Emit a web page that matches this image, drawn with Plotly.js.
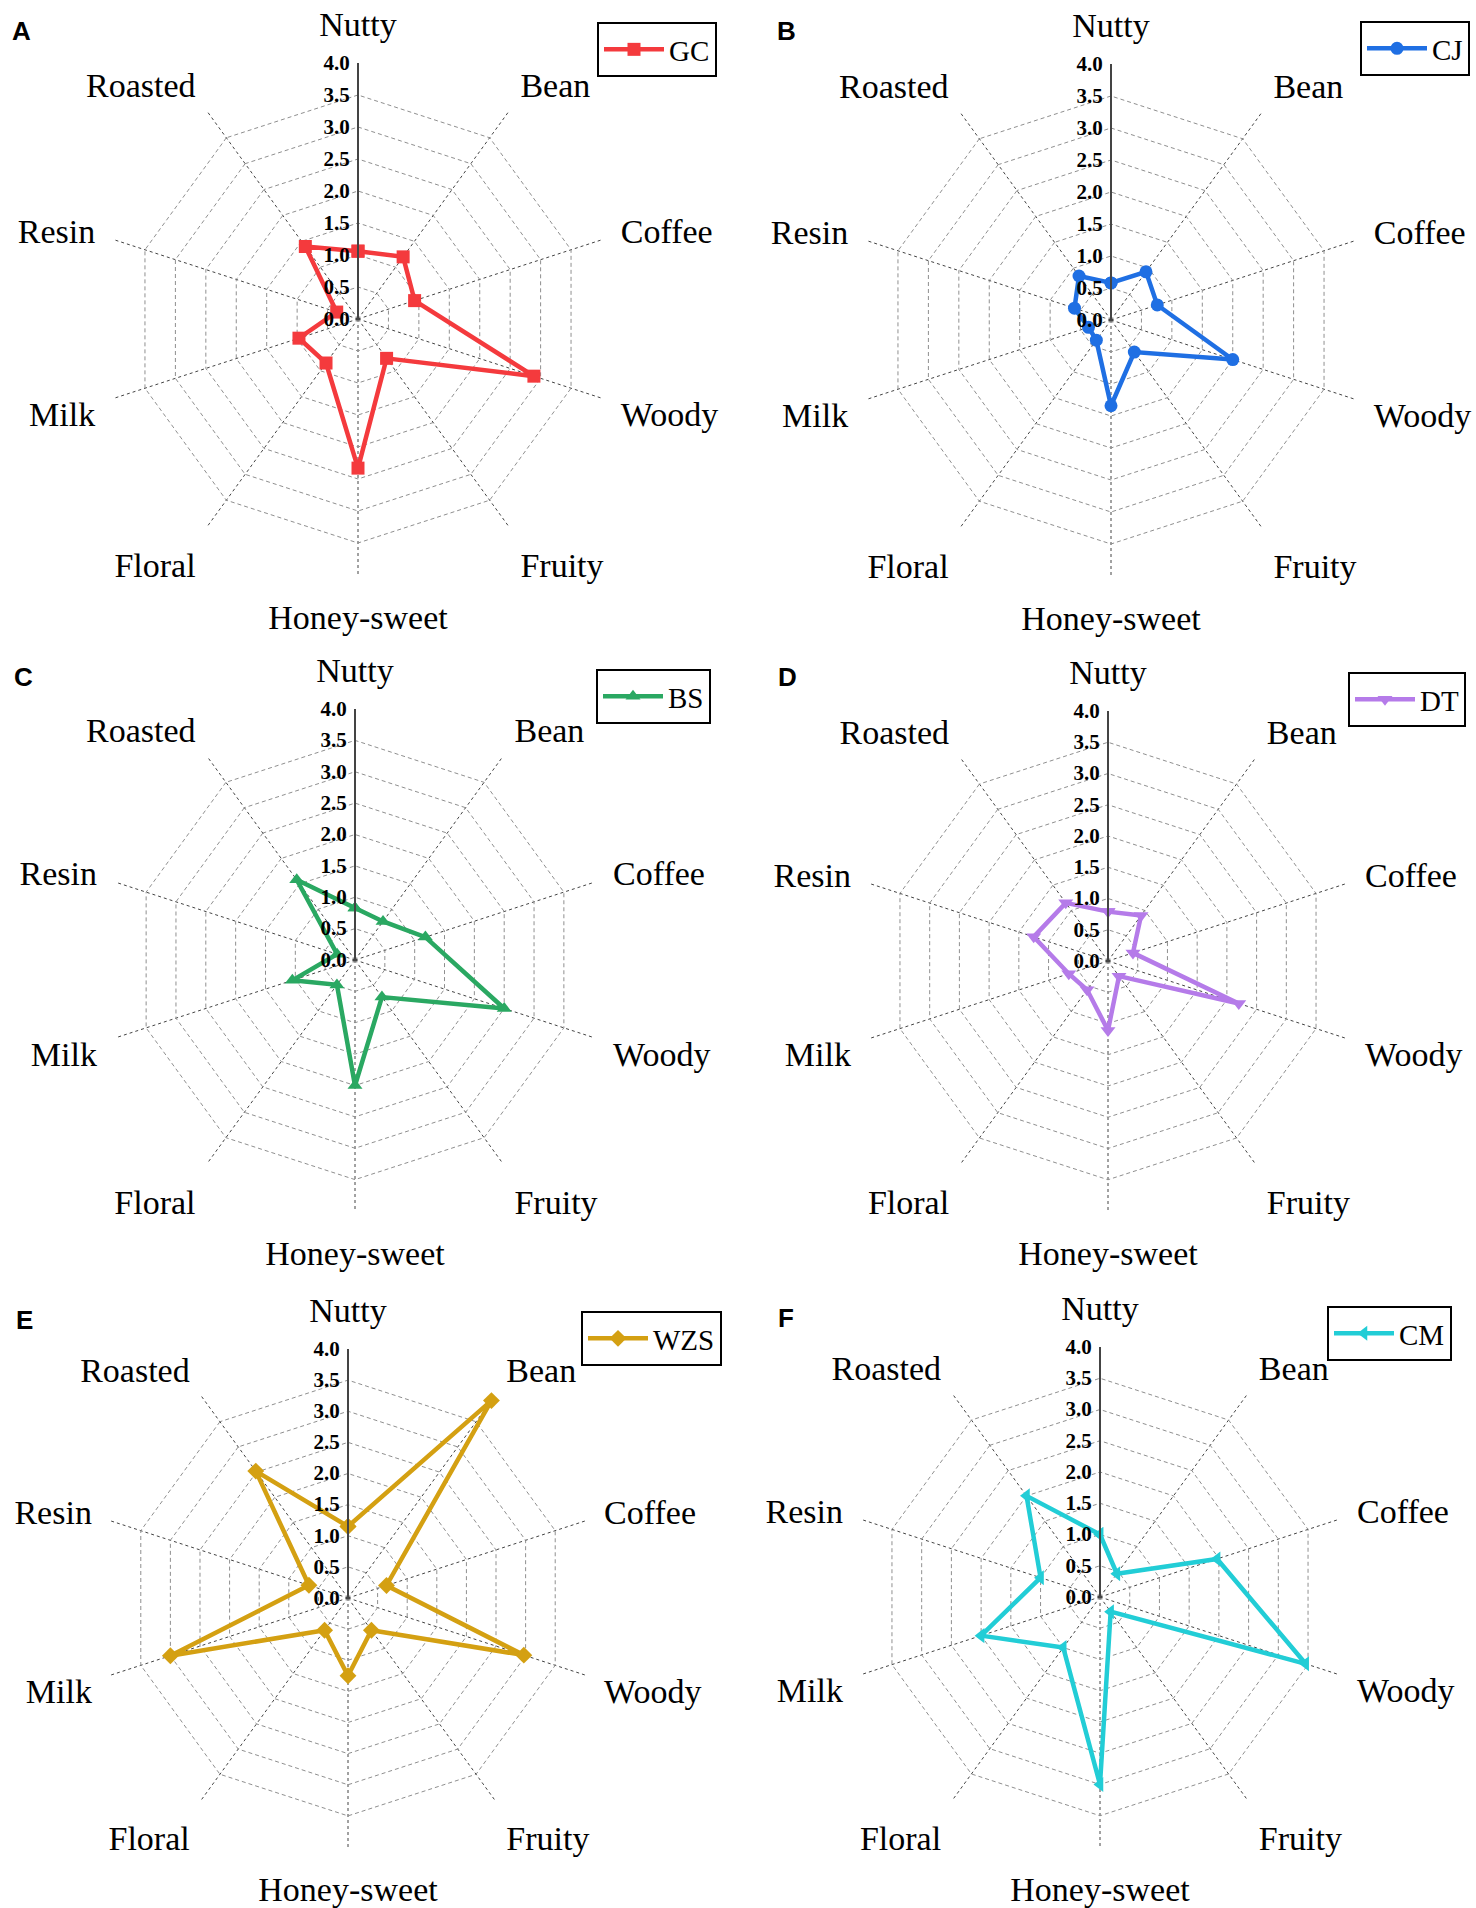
<!DOCTYPE html>
<html>
<head>
<meta charset="utf-8">
<script src="https://cdn.plot.ly/plotly-3.0.1.min.js"></script>
<style>html,body{margin:0;padding:0;background:#fff;}#chart{width:1476px;height:1908px;}</style>
</head>
<body>
<div id="chart"></div>
<script>
// ---- data ----
const categories = ['Nutty','Bean','Coffee','Woody','Fruity','Honey-sweet','Floral','Milk','Resin','Roasted'];
const radialTicks = [0,0.5,1,1.5,2,2.5,3,3.5,4];
const seriesNames = ['GC','CJ','BS','DT','WZS','CM'];
const panelLetters = ['A','B','C','D','E','F'];
const GC  = [1.06, 1.20, 0.93, 2.89, 0.76, 2.33, 0.85, 0.97, 0.35, 1.40];
const CJ  = [0.58, 0.93, 0.76, 2.00, 0.62, 1.34, 0.39, 0.37, 0.60, 0.85];
const BS  = [0.83, 0.76, 1.18, 2.50, 0.73, 2.00, 0.49, 1.05, 0.30, 1.58];
const DT  = [0.79, 0.90, 0.42, 2.20, 0.30, 1.11, 0.57, 0.66, 1.25, 1.15];
const WZS = [1.15, 3.92, 0.65, 2.97, 0.64, 1.25, 0.64, 3.00, 0.66, 2.52];
const CM  = [1.00, 0.46, 1.97, 3.46, 0.29, 3.00, 1.00, 2.00, 1.00, 2.00];
const seriesValues = [GC, CJ, BS, DT, WZS, CM];

// ---- style ----
const colors  = ['#f43a3d','#1f6fe3','#2aa862','#b57be9','#d4a012','#22cdd6'];
const symbols = ['square','circle','triangle-up','triangle-down','diamond','triangle-left'];
const W = 1476, H = 1908;
// panel centre (px) and radius (px)
const panels = [
  {cx:358,  cy:319,  r:256, leg:[717,22],  let:[10,14]},
  {cx:1111, cy:320,  r:256, leg:[1470,21], let:[775,14]},
  {cx:355,  cy:960,  r:251, leg:[711,669], let:[12,660]},
  {cx:1108, cy:961,  r:250, leg:[1466,672],let:[776,660]},
  {cx:348,  cy:1598, r:249, leg:[722,1311],let:[14,1303]},
  {cx:1100, cy:1597, r:250, leg:[1452,1306],let:[776,1301]}
];

const data = [];
const layout = {
  width: W, height: H,
  margin: {l:0, r:0, t:0, b:0},
  paper_bgcolor: '#fff',
  showlegend: true,
  annotations: [],
  font: {family: 'Liberation Serif', color: '#000'}
};

panels.forEach((p, i) => {
  const pk = i === 0 ? 'polar' : 'polar' + (i + 1);
  const lk = i === 0 ? 'legend' : 'legend' + (i + 1);
  const vals = seriesValues[i];
  data.push({
    type: 'scatterpolar',
    subplot: pk,
    legend: lk,
    name: seriesNames[i],
    r: vals.concat([vals[0]]),
    theta: categories.concat([categories[0]]),
    mode: 'lines+markers',
    line: {color: colors[i], width: 4.5},
    marker: {symbol: symbols[i], size: 13, color: colors[i]},
    cliponaxis: false
  });
  layout[pk] = {
    domain: {
      x: [(p.cx - p.r) / W, (p.cx + p.r) / W],
      y: [1 - (p.cy + p.r) / H, 1 - (p.cy - p.r) / H]
    },
    bgcolor: '#fff',
    gridshape: 'linear',
    radialaxis: {
      range: [0, 4],
      tickvals: radialTicks,
      tickformat: '.1f',
      angle: 90,
      tickangle: 90,
      side: 'counterclockwise',
      showline: true, linecolor: '#444', linewidth: 2,
      gridcolor: '#8f8f8f', griddash: '4px,3px', gridwidth: 1,
      ticks: '',
      tickfont: {family: 'Liberation Serif', size: 21, weight: 'bold', color: '#000'}
    },
    angularaxis: {
      type: 'category',
      categoryorder: 'array',
      categoryarray: categories,
      rotation: 90,
      direction: 'clockwise',
      showline: false,
      gridcolor: '#444', griddash: '3px,3px', gridwidth: 1,
      ticks: 'outside', ticklen: 13, tickcolor: 'rgba(0,0,0,0)',
      tickfont: {family: 'Liberation Serif', size: 34, color: '#000'}
    }
  };
  layout[lk] = {
    x: p.leg[0] / W, y: 1 - p.leg[1] / H,
    xanchor: 'right', yanchor: 'top',
    bordercolor: '#000', borderwidth: 2,
    bgcolor: '#fff',
    itemwidth: 60,
    font: {family: 'Liberation Serif', size: 29, color: '#000'}
  };
  layout.annotations.push({
    text: panelLetters[i], xref: 'paper', yref: 'paper',
    x: p.let[0] / W, y: 1 - p.let[1] / H, xanchor: 'left', yanchor: 'top',
    showarrow: false,
    font: {family: 'Liberation Sans', size: 26, weight: 'bold', color: '#000'}
  });
});

Plotly.newPlot('chart', data, layout, {staticPlot: true});
</script>
</body>
</html>
